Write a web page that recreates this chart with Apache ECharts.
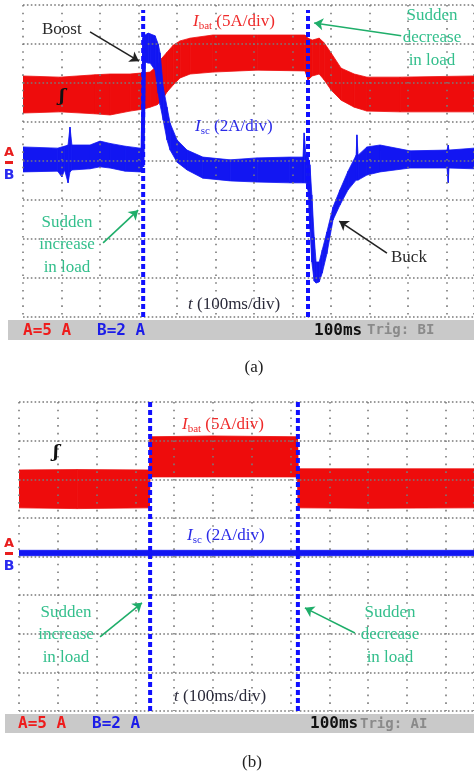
<!DOCTYPE html>
<html>
<head>
<meta charset="utf-8">
<script src="https://cdn.jsdelivr.net/npm/echarts@6/dist/echarts.min.js"></script>
<style>
html,body{margin:0;padding:0;background:#fff;}
#c{width:474px;height:780px;}
</style>
</head>
<body>
<div id="c"></div>
<script>
// ---------- Panel (a): time in ms (100 ms/div), amplitude in screen divisions ----------
const batA_t  = [0, 96, 187, 226, 278, 312, 330, 348, 361, 374, 390, 408, 434, 493, 608, 732, 740, 751, 769, 782, 800, 826, 860, 893, 979, 1171];
const batA_lo = [5.23, 5.26, 5.21, 5.18, 5.28, 5.33, 5.38, 5.44, 5.56, 5.77, 5.95, 6.13, 6.23, 6.28, 6.33, 6.31, 6.08, 6.18, 6.23, 6.08, 5.82, 5.56, 5.38, 5.28, 5.26, 5.26];
const batA_hi = [6.18, 6.15, 6.21, 6.23, 6.23, 6.26, 6.28, 6.44, 6.64, 6.79, 6.97, 7.08, 7.15, 7.23, 7.23, 7.23, 7.15, 7.10, 7.15, 7.03, 6.77, 6.38, 6.23, 6.15, 6.15, 6.18];

const scA_t  = [0, 90, 101, 108, 117, 122, 127, 174, 200, 226, 265, 304, 309, 312, 317, 325, 330, 343, 351, 356, 364, 374, 382, 400, 426, 467, 538, 608, 693, 727, 730, 735, 740, 745, 750, 756, 761, 769, 777, 789, 805, 823, 844, 865, 867, 870, 893, 927, 1005, 1101, 1104, 1106, 1171];
const scA_lo = [3.72, 3.74, 3.59, 3.77, 3.44, 3.72, 3.77, 3.80, 3.85, 3.82, 3.74, 3.72, 3.72, 6.40, 6.54, 6.51, 6.51, 6.33, 5.74, 5.44, 5.05, 4.54, 4.28, 3.97, 3.77, 3.56, 3.49, 3.46, 3.44, 3.44, 3.44, 3.44, 3.26, 2.30, 1.41, 0.92, 0.87, 0.90, 1.13, 1.62, 2.49, 2.87, 3.26, 3.51, 3.51, 3.51, 3.64, 3.72, 3.82, 3.82, 3.44, 3.82, 3.80];
const scA_hi = [4.36, 4.33, 4.36, 4.38, 4.41, 4.87, 4.41, 4.41, 4.51, 4.45, 4.38, 4.33, 4.33, 7.15, 7.23, 7.28, 7.26, 7.21, 7.00, 6.77, 5.90, 5.38, 4.97, 4.54, 4.28, 4.10, 4.03, 4.08, 4.10, 4.10, 4.72, 4.10, 4.10, 3.90, 3.13, 2.05, 1.41, 1.41, 1.72, 2.18, 2.82, 3.26, 3.74, 4.15, 4.67, 4.15, 4.36, 4.41, 4.26, 4.28, 4.41, 4.28, 4.33];

const scA_edge_t = [310, 315];
const scA_edge_v = [3.85, 7.20];

const stepsA = [312, 740];
const stepsA_top = 7.87;

// ---------- Panel (b) ----------
const batB_t  = [0, 150, 336, 338, 500, 718, 720, 900, 1173];
const batB_lo = [5.26, 5.24, 5.26, 6.06, 6.06, 6.06, 5.26, 5.25, 5.26];
const batB_hi = [6.24, 6.25, 6.24, 7.10, 7.12, 7.10, 6.27, 6.27, 6.27];

const scB_t  = [0, 1173];
const scB_lo = [4.02, 4.02];
const scB_hi = [4.16, 4.16];

const stepsB = [338, 719];
const stepsB_top = 8;

// ---------- Annotation arrows [x0, y0, x1, y1] in data units ----------
const arrowsA = [
  {c: '#222222', p: [174, 7.31, 301, 6.56]},   // Boost
  {c: '#1fae6a', p: [982, 7.21, 756, 7.54]},   // Sudden decrease
  {c: '#1fae6a', p: [208, 1.90, 299, 2.74]},   // Sudden increase
  {c: '#222222', p: [945, 1.64, 821, 2.46]}    // Buck
];
const arrowsB = [
  {c: '#1fae6a', p: [209, 1.92, 317, 2.80]},
  {c: '#1fae6a', p: [866, 2.02, 737, 2.67]}
];

const RED = '#ee0c0c', BLUE = '#1216f2', GREEN = '#33bf8c';
const SERIF = '"Liberation Serif", "DejaVu Serif", serif';
const MONO = '"DejaVu Sans Mono", "Liberation Mono", monospace';

function pairs(t, v) { return t.map((x, i) => [x, v[i]]); }

function band(gi, t, lo, hi, color) {
  return {
    type: 'custom', xAxisIndex: gi, yAxisIndex: gi, silent: true, clip: true,
    data: t.map((x, i) => [x, lo[i], hi[i]]),
    encode: { x: 0, y: [1, 2] },
    renderItem: function (params, api) {
      const k = params.dataIndexInside;
      if (k >= params.dataInsideLength - 1) return null;
      const a = [api.value(0, k), api.value(1, k), api.value(2, k)];
      const b = [api.value(0, k + 1), api.value(1, k + 1), api.value(2, k + 1)];
      const pts = [api.coord([a[0], a[1]]), api.coord([b[0], b[1]]), api.coord([b[0], b[2]]), api.coord([a[0], a[2]])];
      return { type: 'polygon', shape: { points: pts }, style: { fill: color, stroke: color, lineWidth: 0.8 } };
    }
  };
}

function stepLines(gi, steps, top, arrows) {
  return steps.map((s, k) => ({
    type: 'line', xAxisIndex: gi, yAxisIndex: gi, symbol: 'none', silent: true, z: 4,
    data: [[s, 0], [s, top]],
    lineStyle: { color: '#1010ff', width: 4, type: [5, 3] },
    markLine: k === 0 ? {
      silent: true, symbol: ['none', 'arrow'], symbolSize: 9,
      label: { show: false },
      data: arrows.map(a => [
        { coord: [a.p[0], a.p[1]], lineStyle: { color: a.c, width: 1.6, type: 'solid' }, itemStyle: { color: a.c } },
        { coord: [a.p[2], a.p[3]] }
      ])
    } : undefined
  }));
}

function xAx(gi, max) {
  return { gridIndex: gi, type: 'value', min: 0, max: max, interval: 100, z: 3,
    axisLine: { show: false }, axisTick: { show: false }, axisLabel: { show: false },
    splitLine: { show: true, lineStyle: { color: '#7a7a7a', width: 1.6, type: [1.6, 6.1] } } };
}
function yAx(gi) {
  return { gridIndex: gi, type: 'value', min: 0, max: 8, interval: 1, z: 3,
    axisLine: { show: false }, axisTick: { show: false }, axisLabel: { show: false },
    splitLine: { show: true, lineStyle: { color: '#7a7a7a', width: 1.6, type: [1.6, 2.3] } } };
}

function label(x, y, text, color, size, align) {
  return { type: 'text', x: x, y: y, z: 100, silent: true,
    style: { text: text, fill: color, font: size + 'px ' + SERIF, align: align || 'left', verticalAlign: 'middle', lineHeight: 22.5 } };
}
function richI(x, y, sub, rest, color) {
  return { type: 'text', x: x, y: y, z: 100, silent: true,
    style: { text: '{i|I}{s|' + sub + '}{n|' + rest + '}', fill: color, align: 'left', verticalAlign: 'middle',
      rich: {
        i: { font: 'italic 17px ' + SERIF, fill: color, color: color, lineHeight: 20, verticalAlign: 'middle' },
        s: { font: '11px ' + SERIF, fill: color, color: color, lineHeight: 20, verticalAlign: 'bottom' },
        n: { font: '17px ' + SERIF, fill: color, color: color, lineHeight: 20, verticalAlign: 'middle' }
      } } };
}
function tLabel(x, y) {
  return { type: 'text', x: x, y: y, z: 100, silent: true,
    style: { text: '{i|t}{n| (100ms/div)}', align: 'left', verticalAlign: 'middle',
      rich: {
        i: { font: 'italic 17px ' + SERIF, fill: '#2a2a3a', color: '#2a2a3a' },
        n: { font: '17px ' + SERIF, fill: '#2a2a3a', color: '#2a2a3a' }
      } } };
}
function mono(x, y, text, color, size, weight) {
  return { type: 'text', x: x, y: y, z: 100, silent: true,
    style: { text: text, fill: color, font: (weight || 'bold') + ' ' + size + 'px ' + MONO, align: 'left', verticalAlign: 'middle' } };
}
function statusBar(x, y, w, h) {
  return { type: 'rect', z: 50, silent: true, shape: { x: x, y: y, width: w, height: h }, style: { fill: '#c9c9c9' } };
}
function chanMarks(y) {
  return [
    { type: 'text', x: 9, y: y, z: 100, silent: true, style: { text: 'A', fill: '#e81e1e', font: 'bold 13px "DejaVu Sans", sans-serif', align: 'center', verticalAlign: 'middle' } },
    { type: 'rect', z: 100, silent: true, shape: { x: 5, y: y + 8, width: 8, height: 3 }, style: { fill: '#e81e1e' } },
    { type: 'text', x: 9, y: y + 22, z: 100, silent: true, style: { text: 'B', fill: '#2a2af0', font: 'bold 14px "DejaVu Sans", sans-serif', align: 'center', verticalAlign: 'middle' } }
  ];
}
function trig(x, y) {
  return { type: 'text', x: x, y: y, z: 100, silent: true, style: { text: 'ʃ', fill: '#111', font: 'italic bold 17px "DejaVu Serif", serif', align: 'center', verticalAlign: 'middle' } };
}

const chart = echarts.init(document.getElementById('c'), null, { renderer: 'canvas' });
chart.setOption({
  animation: false,
  backgroundColor: '#ffffff',
  grid: [
    { left: 23, top: 5, width: 451, height: 312 },
    { left: 19, top: 402, width: 455, height: 309 }
  ],
  xAxis: [xAx(0, 1171), xAx(1, 1173)],
  yAxis: [yAx(0), yAx(1)],
  series: [].concat(
    [band(0, batA_t, batA_lo, batA_hi, RED)],
    [band(0, scA_t, scA_lo, scA_hi, BLUE)],
    [{ type: 'line', xAxisIndex: 0, yAxisIndex: 0, symbol: 'none', silent: true, data: pairs(scA_edge_t, scA_edge_v), lineStyle: { color: BLUE, width: 4 } }],
    stepLines(0, stepsA, stepsA_top, arrowsA),
    [band(1, batB_t, batB_lo, batB_hi, RED)],
    [band(1, scB_t, scB_lo, scB_hi, BLUE)],
    stepLines(1, stepsB, stepsB_top, arrowsB)
  ),
  graphic: [
    // panel (a)
    label(42, 30, 'Boost', '#2a2a2a', 17),
    richI(193, 22, 'bat', ' (5A/div)', '#ef2a2a'),
    label(432, 38, 'Sudden\ndecrease\nin load', GREEN, 17, 'center'),
    richI(195, 127, 'sc', ' (2A/div)', '#2a2ae8'),
    label(67, 245, 'Sudden\nincrease\nin load', GREEN, 17, 'center'),
    label(391, 258, 'Buck', '#2a2a2a', 17),
    tLabel(188, 305),
    trig(62, 97),
    statusBar(8, 320, 466, 20),
    mono(23, 330.5, 'A=5 A', '#ee1c1c', 16),
    mono(97, 330.5, 'B=2 A', '#1c1ce8', 16),
    mono(314, 330.5, '100ms', '#111111', 16),
    mono(367, 330.5, 'Trig: BI', '#8a8a8a', 14),
    label(254, 368, '(a)', '#222', 17, 'center'),
    // panel (b)
    richI(182, 425, 'bat', ' (5A/div)', '#ef2a2a'),
    richI(187, 536, 'sc', ' (2A/div)', '#2a2ae8'),
    label(66, 635, 'Sudden\nincrease\nin load', GREEN, 17, 'center'),
    label(390, 635, 'Sudden\ndecrease\nin load', GREEN, 17, 'center'),
    tLabel(174, 697),
    trig(56, 453),
    statusBar(5, 714, 469, 19),
    mono(18, 724, 'A=5 A', '#ee1c1c', 16),
    mono(92, 724, 'B=2 A', '#1c1ce8', 16),
    mono(310, 724, '100ms', '#111111', 16),
    mono(360, 724, 'Trig: AI', '#8a8a8a', 14),
    label(252, 763, '(b)', '#222', 17, 'center')
  ].concat(chanMarks(153), chanMarks(544))
});
</script>
</body>
</html>
